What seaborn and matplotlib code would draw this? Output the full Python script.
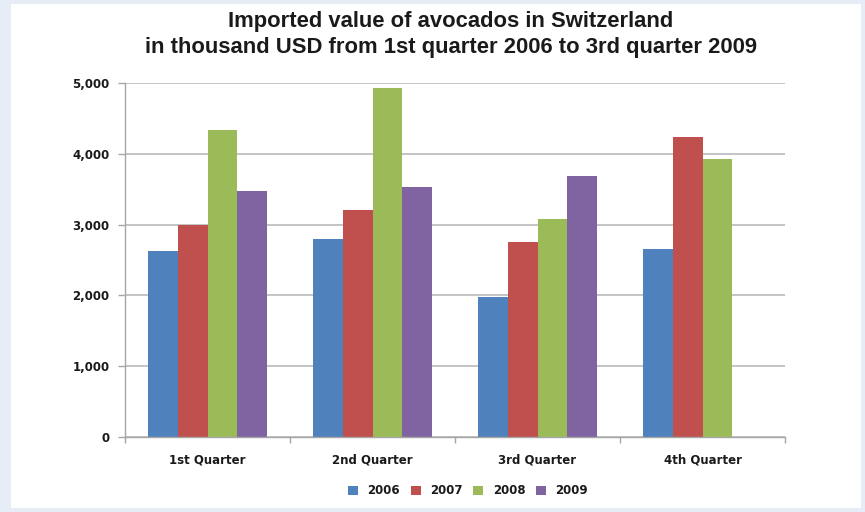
import matplotlib
matplotlib.use("Agg")
import matplotlib.pyplot as plt
from matplotlib.patches import Rectangle
from matplotlib.ticker import FuncFormatter, FixedLocator
import numpy as np
import pandas as pd
import seaborn as sns

# Imported value of avocados (thousand USD) per quarter and year
quarters = ["1st Quarter", "2nd Quarter", "3rd Quarter", "4th Quarter"]
years = ["2006", "2007", "2008", "2009"]
v2006 = [2630, 2800, 1980, 2660]
v2007 = [3000, 3210, 2750, 4240]
v2008 = [4330, 4930, 3080, 3920]
v2009 = [3470, 3530, 3680, np.nan]  # 4th quarter 2009 not yet available
colors = ["#4F81BD", "#C0504D", "#9BBB59", "#8064A2"]

df = pd.DataFrame({
    "quarter": quarters * 4,
    "year": [y for y in years for _ in quarters],
    "value": v2006 + v2007 + v2008 + v2009,
})

sns.set_theme(style="white")
plt.rcParams["font.family"] = ["DejaVu Sans"]

fig = plt.figure(figsize=(8.65, 5.12), dpi=100, facecolor="#E6EDF7")
panel = Rectangle((11 / 865, 4 / 512), 850 / 865, 504 / 512,
                  transform=fig.transFigure, facecolor="white",
                  edgecolor="none", zorder=-10)
fig.patches.append(panel)
ax = fig.add_axes([125 / 865, 1 - 437 / 512, 660 / 865, 354 / 512])
ax.set_facecolor("none")
ax.set_zorder(1)

sns.barplot(data=df, x="quarter", y="value", hue="year", order=quarters,
            hue_order=years, palette=colors, width=0.724, gap=0,
            saturation=1, linewidth=0, ax=ax, legend=False)

ax.set_ylim(0, 5000)
ax.set_xlim(-0.5, 3.5)
ax.set_yticks(range(0, 5001, 1000))
ax.yaxis.set_major_formatter(FuncFormatter(lambda v, p: f"{int(v):,}"))
ax.grid(axis="y", color="#BFBFBF", linewidth=1.3)
ax.set_axisbelow(True)

for s in ["top", "right"]:
    ax.spines[s].set_visible(False)
for s in ["left", "bottom"]:
    ax.spines[s].set_color("#A6A6A6")
    ax.spines[s].set_linewidth(1.0)

ax.tick_params(axis="y", which="major", length=5, width=1, color="#A6A6A6",
               pad=6, labelsize=8.5, labelcolor="#1A1A1A", left=True)
ax.tick_params(axis="x", which="major", length=0, pad=12, labelsize=8.5,
               labelcolor="#1A1A1A")
ax.xaxis.set_minor_locator(FixedLocator([-0.5, 0.5, 1.5, 2.5, 3.5]))
ax.tick_params(axis="x", which="minor", length=4, width=1, color="#A6A6A6",
               bottom=True)
for lab in ax.get_xticklabels() + ax.get_yticklabels():
    lab.set_fontweight("bold")
ax.set_xlabel("")
ax.set_ylabel("")

title_x = 451 / 865
fig.text(title_x, 1 - 22 / 512, "Imported value of avocados in Switzerland",
         ha="center", va="center", fontsize=15.8, fontweight="bold",
         family="Liberation Sans", color="#1A1A1A")
fig.text(title_x, 1 - 48 / 512,
         "in thousand USD from 1st quarter 2006 to 3rd quarter 2009",
         ha="center", va="center", fontsize=15.8, fontweight="bold",
         family="Liberation Sans", color="#1A1A1A")

handles = [Rectangle((0, 0), 1, 1, facecolor=c, edgecolor="none") for c in colors]
leg = fig.legend(handles, years, loc="center", bbox_to_anchor=(468 / 865, 1 - 491 / 512),
                 ncol=4, frameon=False, handlelength=0.85, handleheight=0.85,
                 handletextpad=0.8, columnspacing=0.9,
                 prop={"size": 8.5, "weight": "bold"})
for t in leg.get_texts():
    t.set_color("#1A1A1A")

fig.savefig("out.png", dpi=100, facecolor=fig.get_facecolor())
